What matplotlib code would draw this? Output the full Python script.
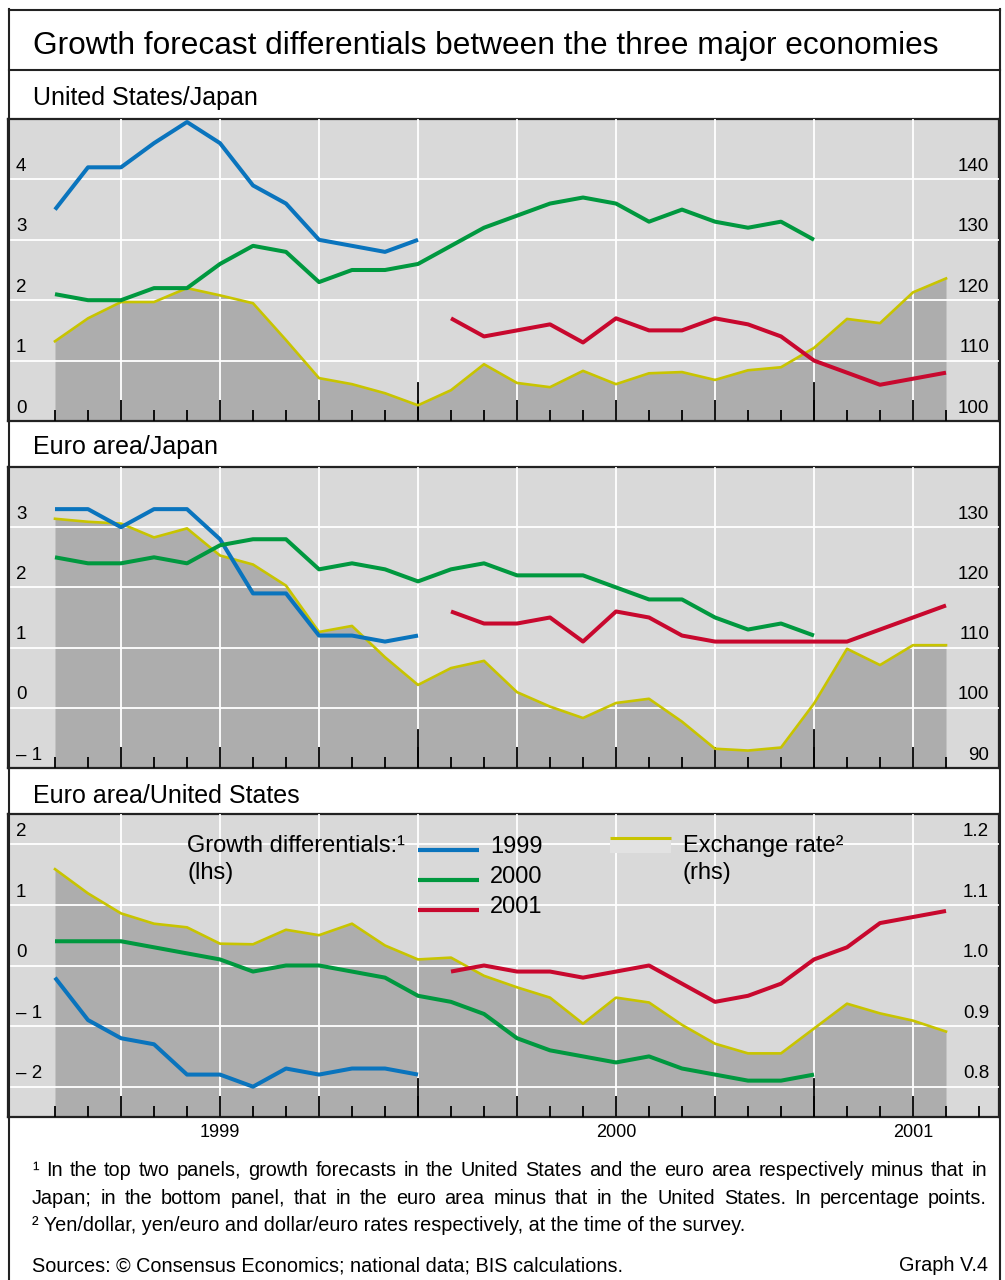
import numpy as np
import matplotlib
matplotlib.use("Agg")
import matplotlib.pyplot as plt
from matplotlib.lines import Line2D
from matplotlib.patches import Rectangle
from matplotlib import transforms

plt.rcParams['font.family'] = ['Liberation Sans', 'DejaVu Sans']

W, H = 1005, 1280

# survey months (1 = first survey shown, 12 = Dec 1999 ...)
months_fx = np.arange(1, 29)
months_1999 = np.arange(1, 13)
months_2000 = np.arange(1, 25)
months_2001 = np.arange(13, 29)

# United States / Japan
us_jp_1999 = [3.5, 4.2, 4.2, 4.6, 4.95, 4.6, 3.9, 3.6, 3.0, 2.9, 2.8, 3.0]
us_jp_2000 = [2.1, 2.0, 2.0, 2.2, 2.2, 2.6, 2.9, 2.8, 2.3, 2.5, 2.5, 2.6,
              2.9, 3.2, 3.4, 3.6, 3.7, 3.6, 3.3, 3.5, 3.3, 3.2, 3.3, 3.0]
us_jp_2001 = [1.7, 1.4, 1.5, 1.6, 1.3, 1.7, 1.5, 1.5, 1.7, 1.6, 1.4, 1.0,
              0.8, 0.6, 0.7, 0.8]
yen_dollar = [113.2, 117.0, 119.7, 119.7, 122.0, 120.8, 119.5, 113.4, 107.1,
              106.1, 104.6, 102.6, 105.1, 109.4, 106.3, 105.6, 108.3, 106.1,
              107.9, 108.1, 106.8, 108.4, 108.9, 112.1, 116.9, 116.2, 121.3, 123.6]

# Euro area / Japan
ea_jp_1999 = [3.3, 3.3, 3.0, 3.3, 3.3, 2.8, 1.9, 1.9, 1.2, 1.2, 1.1, 1.2]
ea_jp_2000 = [2.5, 2.4, 2.4, 2.5, 2.4, 2.7, 2.8, 2.8, 2.3, 2.4, 2.3, 2.1,
              2.3, 2.4, 2.2, 2.2, 2.2, 2.0, 1.8, 1.8, 1.5, 1.3, 1.4, 1.2]
ea_jp_2001 = [1.6, 1.4, 1.4, 1.5, 1.1, 1.6, 1.5, 1.2, 1.1, 1.1, 1.1, 1.1,
              1.1, 1.3, 1.5, 1.7]
yen_euro = [131.4, 130.9, 130.6, 128.3, 129.8, 125.3, 123.8, 120.3, 112.6,
            113.6, 108.4, 103.8, 106.6, 107.8, 102.6, 100.2, 98.3, 100.8,
            101.5, 97.7, 93.2, 92.9, 93.4, 100.7, 109.8, 107.1, 110.4, 110.4]

# Euro area / United States
ea_us_1999 = [-0.2, -0.9, -1.2, -1.3, -1.8, -1.8, -2.0, -1.7, -1.8, -1.7, -1.7, -1.8]
ea_us_2000 = [0.4, 0.4, 0.4, 0.3, 0.2, 0.1, -0.1, 0.0, 0.0, -0.1, -0.2, -0.5,
              -0.6, -0.8, -1.2, -1.4, -1.5, -1.6, -1.5, -1.7, -1.8, -1.9, -1.9, -1.8]
ea_us_2001 = [-0.1, 0.0, -0.1, -0.1, -0.2, -0.1, 0.0, -0.3, -0.6, -0.5, -0.3, 0.1,
              0.3, 0.7, 0.8, 0.9]
dollar_euro = [1.159, 1.119, 1.086, 1.069, 1.063, 1.036, 1.035, 1.059, 1.050,
               1.069, 1.033, 1.010, 1.013, 0.983, 0.964, 0.947, 0.904, 0.947,
               0.939, 0.902, 0.871, 0.855, 0.855, 0.896, 0.937, 0.921, 0.909, 0.891]

year_labels = ['1999', '2000', '2001']
year_label_pos = [6, 18, 27]
year_breaks = [12, 24]

BG = '#d9d9d9'
FILL = '#adadad'
YEL = '#c8c400'
BLUE = '#0a74bd'
GREEN = '#00983f'
RED = '#c8082e'
LINE = '#222222'

fig = plt.figure(figsize=(W / 100, H / 100), dpi=100)


def fx(px):
    return px / W


def fy(px):
    return 1 - px / H


XMIN, XMAX = (8 - 22) / 33, (999 - 22) / 33


def draw_panel(top, bottom, title, title_base, fxr, g99, g00, g01,
               llim, lticks, llabels, rlim, rticks, rlabels, last_month):
    ax = fig.add_axes([fx(8), fy(bottom), 991 / W, (bottom - top) / H])
    ax.set_facecolor(BG)
    ax.set_xlim(XMIN, XMAX)
    ax.set_ylim(*rlim)
    ax.fill_between(months_fx, fxr, rlim[0], color=FILL, lw=0, zorder=1)
    ax.plot(months_fx, fxr, color=YEL, lw=1.9, zorder=3)
    ax.set_yticks([t for t in rticks if t > rlim[0] + 1e-9])
    ax.set_xticks(np.arange(3, 30, 3))
    ax.set_xticks(np.arange(1, last_month + 1), minor=True)
    ax.set_axisbelow(False)
    ax.grid(True, which='major', color='white', lw=1.3)
    ax.tick_params(axis='y', length=0, labelleft=False, labelright=False)
    ax.tick_params(axis='x', which='major', direction='in', length=15,
                   width=1.3, color='black', labelbottom=False)
    ax.tick_params(axis='x', which='minor', direction='in', length=8,
                   width=1.3, color='black')
    for yb in year_breaks:
        ax.axvline(yb, ymin=0, ymax=38 / (bottom - top), color='black',
                   lw=1.3, zorder=2.6)
    for s in ax.spines.values():
        s.set_color(LINE)
        s.set_linewidth(1.6)

    ax2 = ax.twinx()
    ax2.set_ylim(*llim)
    ax2.set_yticks([])
    for s in ax2.spines.values():
        s.set_visible(False)
    ax2.plot(months_1999, g99, color=BLUE, lw=2.9, solid_capstyle='butt')
    ax2.plot(months_2000, g00, color=GREEN, lw=2.9, solid_capstyle='butt')
    ax2.plot(months_2001, g01, color=RED, lw=2.9, solid_capstyle='butt')

    tl = transforms.offset_copy(
        transforms.blended_transform_factory(ax.transAxes, ax2.transData),
        fig=fig, y=6, units='points')
    for v, lab in zip(lticks, llabels):
        ax2.text((16 - 8) / 991, v, lab, transform=tl, fontsize=13.5,
                 va='baseline', ha='left')
    tr = transforms.offset_copy(
        transforms.blended_transform_factory(ax.transAxes, ax.transData),
        fig=fig, y=6, units='points')
    for v, lab in zip(rticks, rlabels):
        ax.text((989 - 8) / 991, v, lab, transform=tr, fontsize=13.5,
                va='baseline', ha='right')

    fig.text(fx(33), fy(title_base), title, fontsize=18, va='baseline')
    return ax


draw_panel(119, 421, 'United States/Japan', 105, yen_dollar,
           us_jp_1999, us_jp_2000, us_jp_2001,
           (0, 5), [0, 1, 2, 3, 4], ['0', '1', '2', '3', '4'],
           (100, 150), [100, 110, 120, 130, 140],
           ['100', '110', '120', '130', '140'], 28)
draw_panel(467, 768, 'Euro area/Japan', 454, yen_euro,
           ea_jp_1999, ea_jp_2000, ea_jp_2001,
           (-1, 4), [-1, 0, 1, 2, 3], ['\u2013 1', '0', '1', '2', '3'],
           (90, 140), [90, 100, 110, 120, 130],
           ['90', '100', '110', '120', '130'], 28)
ax3 = draw_panel(814, 1117, 'Euro area/United States', 803, dollar_euro,
                 ea_us_1999, ea_us_2000, ea_us_2001,
                 (-2.5, 2.5), [-2, -1, 0, 1, 2],
                 ['\u2013 2', '\u2013 1', '0', '1', '2'],
                 (0.75, 1.25), [0.8, 0.9, 1.0, 1.1, 1.2],
                 ['0.8', '0.9', '1.0', '1.1', '1.2'], 29)

# year labels under the bottom panel
ty = transforms.blended_transform_factory(ax3.transData, fig.transFigure)
for lab, pos in zip(year_labels, year_label_pos):
    fig.text(pos, fy(1137), lab, transform=ty, fontsize=13,
             ha='center', va='baseline')

# legend in the bottom panel
fig.text(fx(187), fy(852), 'Growth differentials:\u00b9', fontsize=17, va='baseline')
fig.text(fx(187), fy(879), '(lhs)', fontsize=17, va='baseline')
for col, lab, yl in [(BLUE, '1999', 850), (GREEN, '2000', 880), (RED, '2001', 910)]:
    fig.add_artist(Line2D([fx(418), fx(479)], [fy(yl), fy(yl)], color=col,
                          lw=3.0, solid_capstyle='butt'))
    fig.text(fx(490), fy(yl + 3), lab, fontsize=17, va='baseline')
fig.add_artist(Rectangle((fx(610), fy(853)), 61 / W, 15 / H,
                         facecolor='#e2e2e2', edgecolor='none'))
fig.add_artist(Line2D([fx(610), fx(671)], [fy(838), fy(838)], color=YEL,
                      lw=2.2, solid_capstyle='butt'))
fig.text(fx(683), fy(852), 'Exchange rate\u00b2', fontsize=17, va='baseline')
fig.text(fx(683), fy(879), '(rhs)', fontsize=17, va='baseline')

# title and frame
fig.text(fx(33), fy(54), 'Growth forecast differentials between the three major economies',
         fontsize=22.8, va='baseline')
for xs, ys in [([8.5, 8.5], [9, 1280]), ([999.5, 999.5], [9, 1280]),
               ([8.5, 999.5], [9.5, 9.5]), ([8.5, 999.5], [70, 70])]:
    fig.add_artist(Line2D([fx(x) for x in xs], [fy(y) for y in ys],
                          color=LINE, lw=1.5))

# footnotes (first two lines justified to the right margin)
renderer = fig.canvas.get_renderer()


def justified(text, x0, x1, base, size):
    words = text.split(' ')
    arts = [fig.text(0, fy(base), w, fontsize=size, va='baseline') for w in words]
    widths = [a.get_window_extent(renderer).width for a in arts]
    gap = (x1 - x0 - sum(widths)) / (len(words) - 1)
    x = x0
    for a, wd in zip(arts, widths):
        a.set_x(fx(x))
        x += wd + gap


notes = [
    '\u00b9 In the top two panels, growth forecasts in the United States and the euro area respectively minus that in',
    'Japan; in the bottom panel, that in the euro area minus that in the United States. In percentage points.',
    '\u00b2 Yen/dollar, yen/euro and dollar/euro rates respectively, at the time of the survey.',
]
FN = 14.3
justified(notes[0], 32, 987, 1176, FN)
justified(notes[1], 32, 987, 1204, FN)
fig.text(fx(32), fy(1231), notes[2], fontsize=FN, va='baseline')
fig.text(fx(32), fy(1271), 'Sources: \u00a9 Consensus Economics; national data; BIS calculations.',
         fontsize=FN, va='baseline')
fig.text(fx(988), fy(1271), 'Graph V.4', fontsize=FN, va='baseline', ha='right')

fig.savefig('out.png', dpi=100)
